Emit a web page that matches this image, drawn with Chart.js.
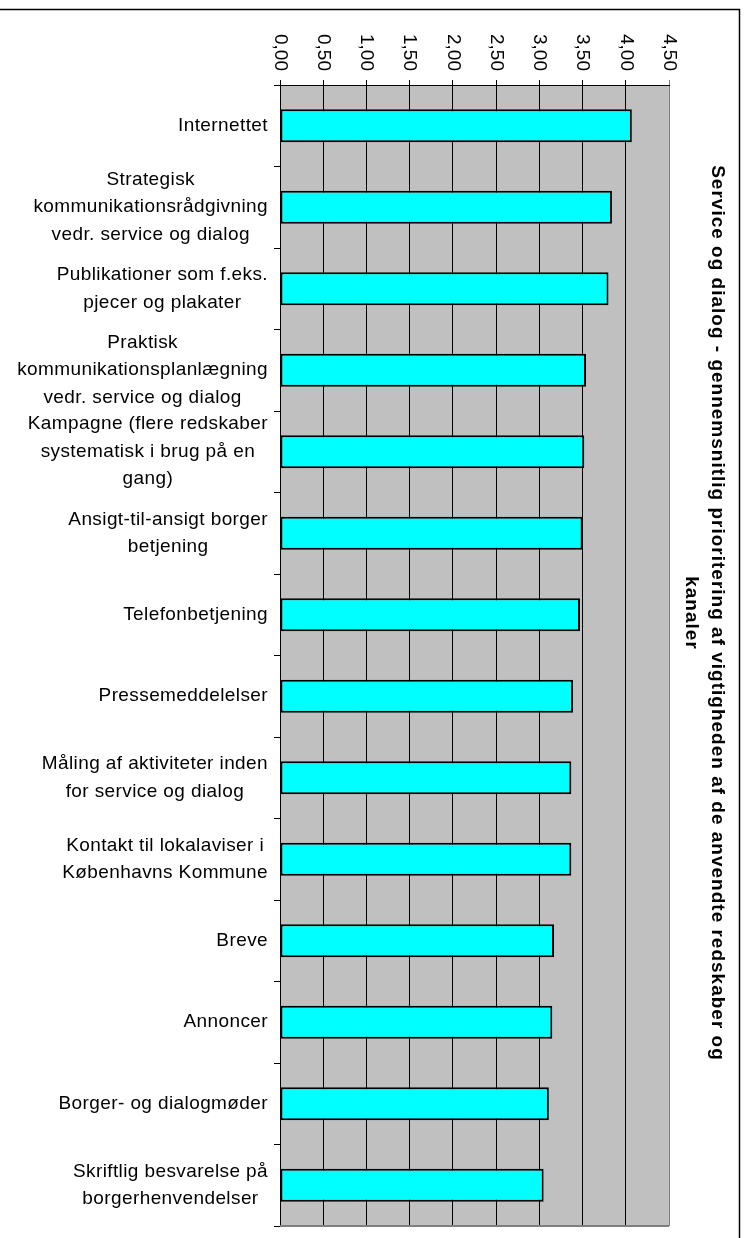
<!DOCTYPE html>
<html>
<head>
<meta charset="utf-8">
<script src="https://cdn.jsdelivr.net/npm/chart.js@4"></script>
<style>
  body { margin: 0; background: #fff; }
  canvas { display: block; }
</style>
</head>
<body>
<canvas id="grafico" width="747" height="1238"></canvas>
<script>
// kategorier (linjer som i originalen)
const kategorier = [
    ["Internettet"],
    ["Strategisk", "kommunikationsrådgivning", "vedr. service og dialog"],
    ["Publikationer som f.eks.", "pjecer og plakater"],
    ["Praktisk", "kommunikationsplanlægning", "vedr. service og dialog"],
    ["Kampagne (flere redskaber", "systematisk i brug på en", "gang)"],
    ["Ansigt-til-ansigt borger", "betjening"],
    ["Telefonbetjening"],
    ["Pressemeddelelser"],
    ["Måling af aktiviteter inden", "for service og dialog"],
    ["Kontakt til lokalaviser i", "Københavns Kommune"],
    ["Breve"],
    ["Annoncer"],
    ["Borger- og dialogmøder"],
    ["Skriftlig besvarelse på", "borgerhenvendelser"]
];
const gennemsnit = [4.07, 3.84, 3.80, 3.54, 3.52, 3.50, 3.47, 3.39, 3.37, 3.37, 3.17, 3.15, 3.11, 3.05];
const xTickVaerdier = [0, 0.5, 1, 1.5, 2, 2.5, 3, 3.5, 4, 4.5];
const xTickLabels = ["0,00", "0,50", "1,00", "1,50", "2,00", "2,50", "3,00", "3,50", "4,00", "4,50"];
const titel = ["Service og dialog - gennemsnitlig prioritering af vigtigheden af de anvendte redskaber og", "kanaler"];

const FONT = "'Liberation Sans', Arial, sans-serif";

const tegnPlugin = {
    id: "tegn",
    beforeDraw(chart) {
        const ctx = chart.ctx;
        const a = chart.chartArea;
        ctx.save();
        ctx.fillStyle = "#fff";
        ctx.fillRect(0, 0, chart.width, chart.height);
        ctx.fillStyle = "#c0c0c0";
        ctx.fillRect(a.left, a.top, a.right - a.left, a.bottom - a.top);
        ctx.restore();
    },
    beforeDatasetsDraw(chart) {
        const ctx = chart.ctx;
        const a = chart.chartArea;
        ctx.save();
        ctx.strokeStyle = "#808080";
        ctx.lineWidth = 2;
        ctx.beginPath();
        ctx.moveTo(a.left, a.bottom);
        ctx.lineTo(a.right, a.bottom);
        ctx.stroke();
        ctx.restore();
    },
    afterDraw(chart) {
        const ctx = chart.ctx;
        const a = chart.chartArea;
        const xs = chart.scales.x;
        const ys = chart.scales.y;
        ctx.save();
        ctx.fillStyle = "#000";

        // x-akse labels, drejet med uret
        ctx.font = "19px " + FONT;
        xTickVaerdier.forEach((v, i) => {
            ctx.save();
            ctx.translate(xs.getPixelForValue(v), a.top - 14);
            ctx.rotate(Math.PI / 2);
            ctx.textAlign = "right";
            ctx.textBaseline = "middle";
            ctx.fillText(xTickLabels[i], 0, 0);
            ctx.restore();
        });

        // kategori labels, centreret i blok, højrestillet mod aksen
        ctx.font = "19px " + FONT;
        if ("letterSpacing" in ctx) ctx.letterSpacing = "0.4px";
        ctx.textBaseline = "middle";
        ctx.textAlign = "center";
        const linjeHoejde = 27.5;
        kategorier.forEach((linjer, i) => {
            const y = ys.getPixelForValue(i);
            const bredde = Math.max(...linjer.map(l => ctx.measureText(l).width));
            const cx = a.left - 12 - bredde / 2;
            const start = y - (linjer.length - 1) * linjeHoejde / 2;
            linjer.forEach((l, j) => ctx.fillText(l, cx, start + j * linjeHoejde));
        });

        // titel til højre, drejet med uret
        ctx.font = "bold 19px " + FONT;
        if ("letterSpacing" in ctx) ctx.letterSpacing = "1px";
        ctx.save();
        ctx.translate(a.right + 48, 613);
        ctx.rotate(Math.PI / 2);
        ctx.textAlign = "center";
        ctx.textBaseline = "middle";
        titel.forEach((l, j) => ctx.fillText(l, 0, j * 26));
        ctx.restore();
        if ("letterSpacing" in ctx) ctx.letterSpacing = "0px";

        // ramme
        ctx.strokeStyle = "#000";
        ctx.lineWidth = 1.5;
        ctx.strokeRect(-2, 9.5, 741.5, 1240);
        ctx.restore();
    }
};

const config = {
    type: "bar",
    data: {
        labels: kategorier,
        datasets: [{
            data: gennemsnit,
            backgroundColor: "#00ffff",
            borderColor: "#000",
            borderWidth: 2,
            borderSkipped: false,
            categoryPercentage: 1,
            barPercentage: 0.405
        }]
    },
    options: {
        indexAxis: "y",
        responsive: false,
        animation: false,
        devicePixelRatio: 1,
        layout: { padding: { left: 0, top: 0, right: 78, bottom: 12 } },
        plugins: {
            legend: { display: false },
            title: { display: false },
            tooltip: { enabled: false }
        },
        scales: {
            x: {
                position: "top",
                min: 0,
                max: 4.5,
                ticks: { stepSize: 0.5, display: false },
                grid: {
                    color: (c) => (c.tick && c.tick.value === 4.5) ? "#808080" : "#000",
                    lineWidth: 1,
                    tickLength: 5
                },
                border: { display: true, color: "#000" },
                afterFit(scale) { scale.height = 85; }
            },
            y: {
                ticks: { display: false },
                grid: {
                    drawOnChartArea: false,
                    color: "#000",
                    tickLength: 6
                },
                border: { display: true, color: "#000" },
                afterFit(scale) { scale.width = 280; }
            }
        }
    },
    plugins: [tegnPlugin]
};

const myChart = new Chart(document.getElementById("grafico"), config);
</script>
</body>
</html>
